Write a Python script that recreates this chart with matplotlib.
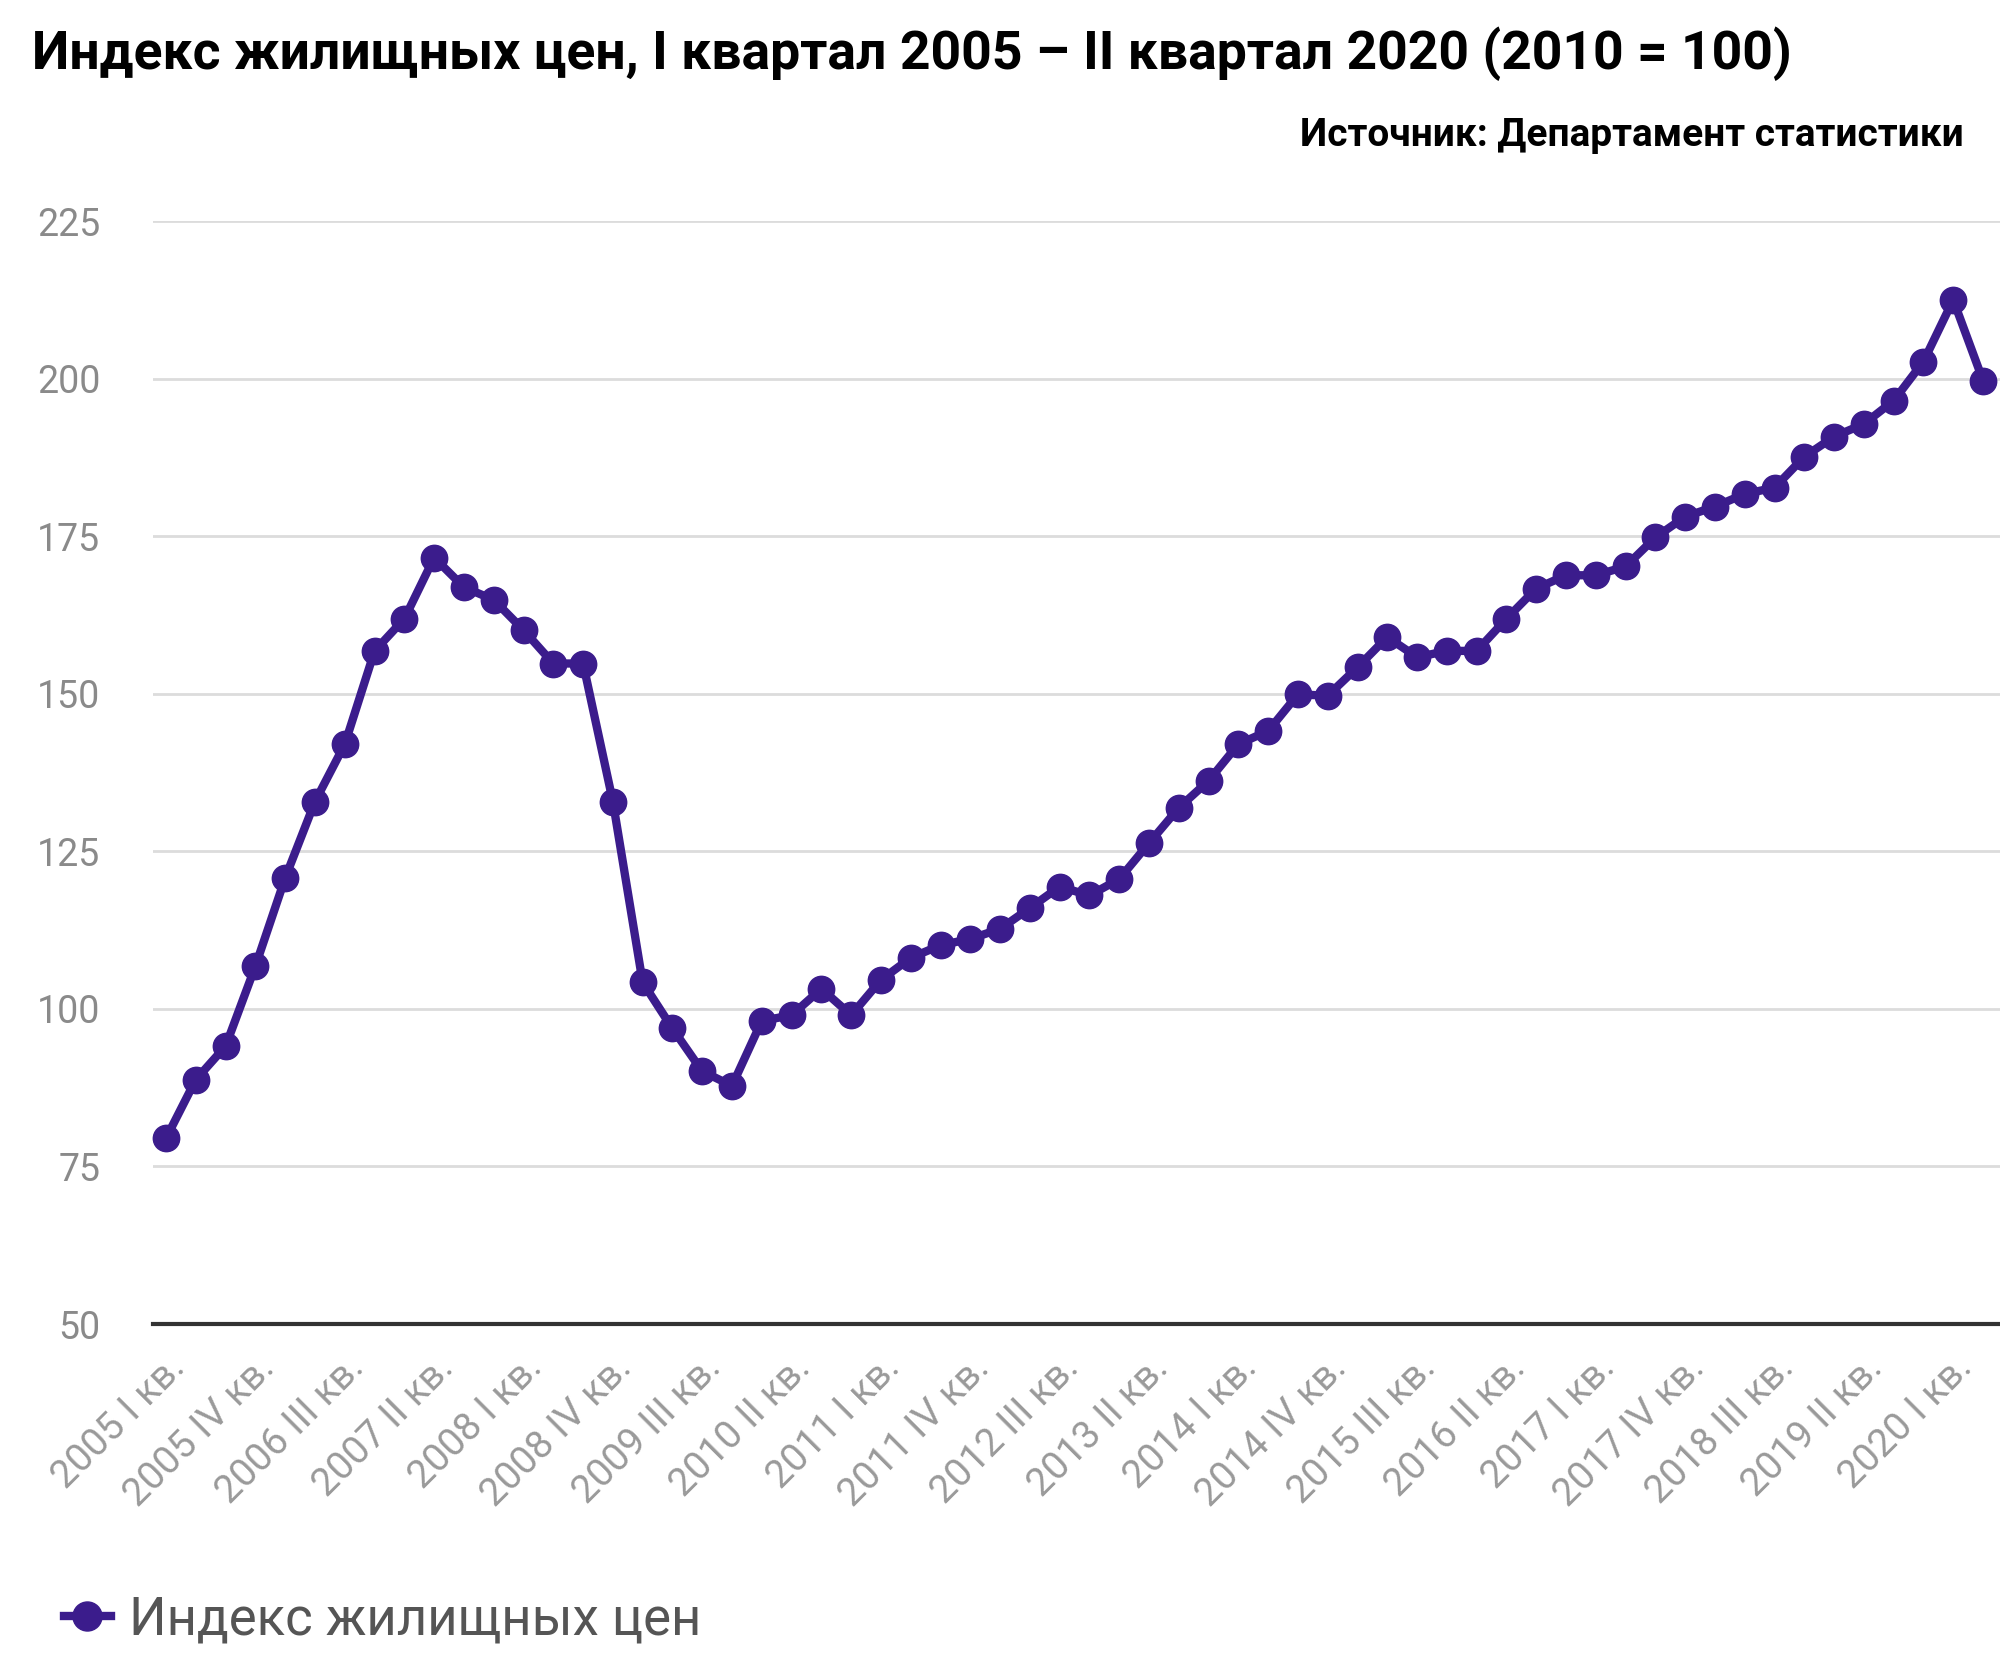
import numpy as np
import matplotlib.pyplot as plt

# quarterly house price index, 2010 = 100
years = list(range(2005, 2021))
quarter_names = ["I", "II", "III", "IV"]
index_values = [
    79.5, 88.8, 94.1, 106.8,
    120.8, 132.9, 142.0, 156.8,
    161.9, 171.6, 166.9, 164.9,
    160.1, 154.8, 154.8, 132.9,
    104.2, 96.9, 90.1, 87.8,
    98.1, 99.0, 103.2, 99.0,
    104.6, 108.1, 110.1, 111.1,
    112.7, 116.0, 119.4, 118.0,
    120.6, 126.3, 131.9, 136.2,
    142.0, 144.1, 149.9, 149.7,
    154.2, 159.0, 155.8, 156.8,
    156.8, 161.9, 166.7, 168.8,
    168.8, 170.2, 174.8, 178.1,
    179.7, 181.7, 182.7, 187.6,
    190.8, 192.8, 196.5, 202.7,
    212.5, 199.7,
]
y_ticks = [50, 75, 100, 125, 150, 175, 200, 225]

labels = [f"{y} {q} кв." for y in years for q in quarter_names][:len(index_values)]
x = np.arange(len(index_values))

plt.rcParams['font.family'] = ['Roboto', 'DejaVu Sans']

fig = plt.figure(figsize=(20, 16.72), dpi=100)
ax = fig.add_axes([0.0765, 0.2081, 0.9235, 0.6597])

purple = "#3b1c8c"
ax.plot(x, index_values, color=purple, linewidth=6, marker="o",
        markersize=19, label="Индекс жилищных цен", zorder=3, clip_on=False)

ax.set_xlim(-0.44, 61.57)
ax.set_ylim(50, 225)
ax.set_yticks(y_ticks)
ax.yaxis.grid(True, color="#dcdcdc", linewidth=2)
ax.set_axisbelow(True)
for s in ["top", "right", "left"]:
    ax.spines[s].set_visible(False)
ax.spines["bottom"].set_color("#333333")
ax.spines["bottom"].set_linewidth(3)

ax.set_xticks(x[::3])
ax.set_xticklabels(labels[::3], rotation=45, ha="right", va="top",
                   rotation_mode="anchor", fontsize=28, color="#9a9a9a")
ax.tick_params(axis="both", length=0)
ax.tick_params(axis="x", pad=18)
ax.tick_params(axis="y", labelsize=27, labelcolor="#8a8a8a", pad=38)

fig.text(0.016, 0.968, "Индекс жилищных цен, I квартал 2005 – II квартал 2020 (2010 = 100)",
         fontsize=38.5, fontweight="bold", ha="left", va="center")
fig.text(0.982, 0.919, "Источник: Департамент статистики",
         fontsize=28, fontweight="bold", ha="right", va="center")

fig.legend(loc="center left", bbox_to_anchor=(0.008, 0.031), frameon=False,
           fontsize=38, handlelength=0.9, handletextpad=0.35, labelcolor="#555555",
           markerscale=1.1)

fig.savefig("out.png", dpi=100)
